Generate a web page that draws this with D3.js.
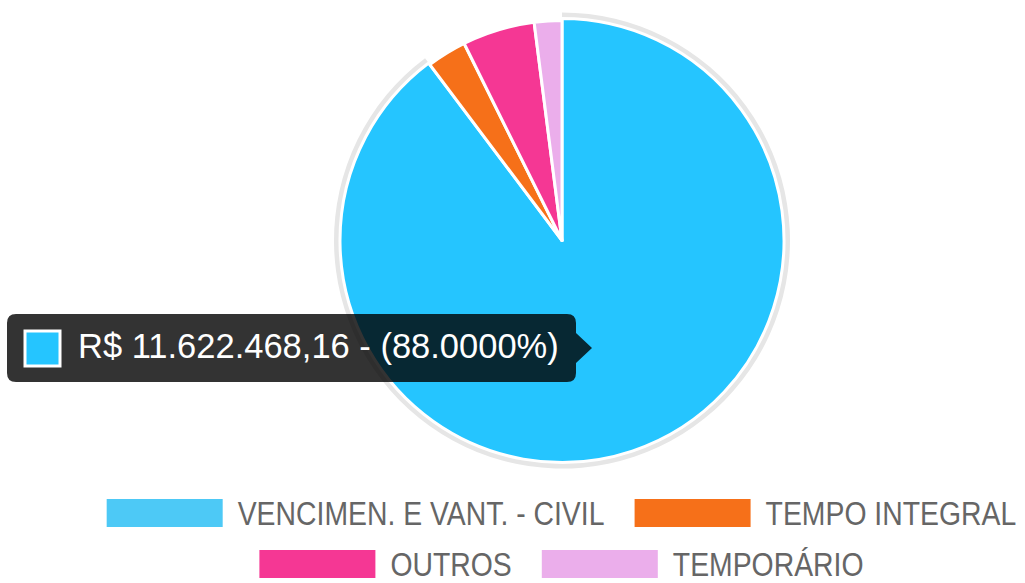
<!DOCTYPE html>
<html>
<head>
<meta charset="utf-8">
<script src="https://cdn.jsdelivr.net/npm/d3@7"></script>
<style>
  html, body { margin: 0; padding: 0; background: #fff; }
  svg { display: block; font-family: "Liberation Sans", Arial, Helvetica, sans-serif; }
</style>
</head>
<body>
<div id="chart"></div>
<script>
// data
const labels = ['VENCIMEN. E VANT. - CIVIL', 'TEMPO INTEGRAL', 'OUTROS', 'TEMPORÁRIO'];
const values = [11622468.16, 378000, 688000, 262000];
const legendColors = ['#4dc9f6', '#f67019', '#f53794', '#ebaeeb'];
const sliceColors = ['#25c5ff', '#f67019', '#f53794', '#ebaeeb'];
const activeIndex = 0;
const tooltipText = 'R$ 11.622.468,16 - (88.0000%)';

const width = 1025, height = 583;
const cx = 562, cy = 240.5;
const radius = 220;

let svg = d3.select('#chart').append('svg')
    .attr('width', width)
    .attr('height', height);

// pie
let pie = d3.pie().sort(null).value(d => d)(values);
let arc = d3.arc().innerRadius(0);
let g = svg.append('g').attr('transform', `translate(${cx},${cy})`);

// grey ring around the hovered slice
g.append('path')
    .attr('d', d3.arc()
        .innerRadius(radius + 1)
        .outerRadius(radius + 8)
        .startAngle(pie[activeIndex].startAngle)
        .endAngle(pie[activeIndex].endAngle)())
    .style('fill', '#e6e6e6');

g.selectAll('.slice')
    .data(pie)
    .enter()
    .append('path')
    .attr('class', 'slice')
    .attr('d', (d, i) => arc.outerRadius(i === activeIndex ? radius + 2 : radius)(d))
    .style('fill', (d, i) => sliceColors[i])
    .style('stroke', '#fff')
    .style('stroke-width', 3)
    .style('stroke-linejoin', 'round');

// legend, two centered rows (the font is narrow, so squeeze it)
const boxW = 116, boxH = 28, fontSize = 33, squeeze = 0.86;
const rows = [[0, 1], [2, 3]];
const rowY = [513, 564];

let legend = svg.append('g');
rows.forEach((row, r) => {
    let items = row.map(i => {
        let wrap = legend.append('g');
        let t = wrap.append('text')
            .attr('dominant-baseline', 'central')
            .style('font-size', fontSize + 'px')
            .style('fill', '#666')
            .text(labels[i]);
        let w = t.node().getComputedTextLength() * squeeze;
        return { i, wrap, w };
    });
    let total = d3.sum(items, d => boxW + 15 + d.w) + 30 * (items.length - 1);
    let x = 561.5 - total / 2;
    items.forEach(d => {
        legend.append('rect')
            .attr('x', x)
            .attr('y', rowY[r] - boxH / 2)
            .attr('width', boxW)
            .attr('height', boxH)
            .style('fill', legendColors[d.i]);
        d.wrap.attr('transform', `translate(${x + boxW + 15},${rowY[r] + 1}) scale(${squeeze},1)`);
        x += boxW + 15 + d.w + 30;
    });
});

// tooltip for the active slice
let tip = svg.append('g');
const tx = 7, ty = 314, tw = 569, th = 68;
tip.append('path')
    .attr('d', `M${tx + 9},${ty} H${tx + tw - 9} Q${tx + tw},${ty} ${tx + tw},${ty + 9}
      V${ty + th / 2 - 15} L${tx + tw + 16},${ty + th / 2} L${tx + tw},${ty + th / 2 + 15}
      V${ty + th - 9} Q${tx + tw},${ty + th} ${tx + tw - 9},${ty + th}
      H${tx + 9} Q${tx},${ty + th} ${tx},${ty + th - 9} V${ty + 9} Q${tx},${ty} ${tx + 9},${ty} Z`)
    .style('fill', 'rgba(0,0,0,0.8)');
tip.append('rect')
    .attr('x', 25)
    .attr('y', 331)
    .attr('width', 35)
    .attr('height', 35)
    .style('fill', sliceColors[activeIndex])
    .style('stroke', '#fff')
    .style('stroke-width', 3);
tip.append('text')
    .attr('x', 78)
    .attr('y', 358)
    .style('font-size', '34.5px')
    .style('fill', '#fff')
    .text(tooltipText);
</script>
</body>
</html>
